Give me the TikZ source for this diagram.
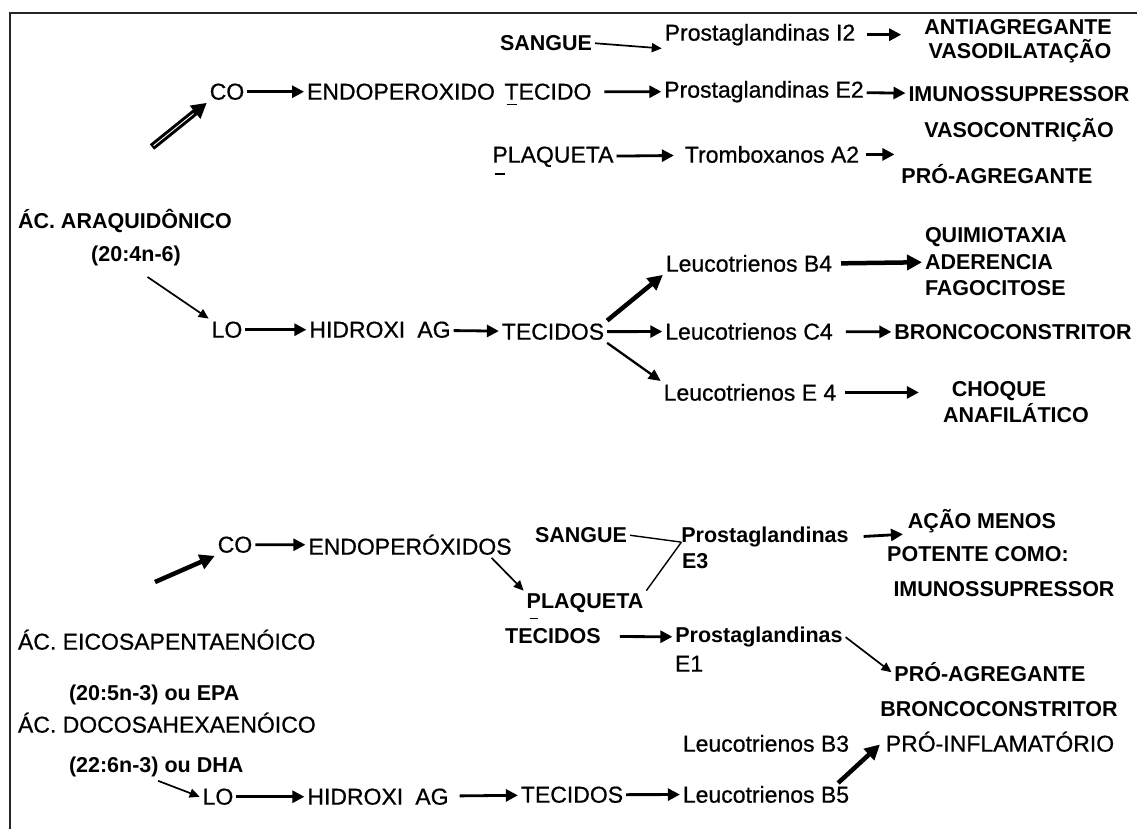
\documentclass[tikz,border=0pt]{standalone}
\usepackage{fontspec}
\setmainfont{Liberation Sans}
\newfontfamily\regf{Liberation Sans}[FakeBold=0.7]
\usetikzlibrary{arrows.meta,calc}
\begin{document}
\begin{tikzpicture}[x=1pt,y=-1pt,
  every node/.style={inner sep=0pt,outer sep=3pt,anchor=mid,font=\regf\fontsize{23}{26}\selectfont},
  bd/.style={font=\fontsize{21.5}{26}\selectfont\bfseries},
  arr/.style={line width=2.8pt,-{Triangle[length=12pt,width=12pt]}},
  tarr/.style={line width=1.7pt,-{Triangle[length=10pt,width=9pt]}},
  barr/.style={line width=4.5pt,-{Triangle[length=15pt,width=15pt]}},
  plainln/.style={line width=1.4pt},
  dmark/.style={line width=1.5pt}]
\useasboundingbox (0,0) rectangle (1137,828);
\fill[white] (0,0) rectangle (1137,828);
\draw[line width=2pt,black!85] (10,840) -- (10,13) -- (1150,13);

% ---------- top section ----------
\node[bd] (sangA) at (546,48) {SANGUE};
\node (pgi2) at (760,38) {Prostaglandinas I2};
\node[bd] (antia) at (1018,32) {ANTIAGREGANTE};
\node[bd] (vasod) at (1020,56) {VASODILATAÇÃO};
\node (co1) at (227,97) {CO};
\node (endo1) at (401,97) {ENDOPEROXIDO};
\node (tec1) at (548,97) {TECIDO};
\node (pge2) at (764,95) {Prostaglandinas E2};
\node[bd] (imun1) at (1019,99) {IMUNOSSUPRESSOR};
\node[bd] (vasoc) at (1019,135) {VASOCONTRIÇÃO};
\node (plaq1) at (553,160) {PLAQUETA};
\node (txa2) at (772,160) {Tromboxanos A2};
\node[bd] (proag1) at (997,181) {PRÓ-AGREGANTE};
\node[bd,anchor=mid west] (aa) at (15,226) {ÁC. ARAQUIDÔNICO};
\node[bd] (aa2) at (136,259) {(20:4n-6)};
\node (lo1) at (227,335) {LO};
\node (hid1) at (380,335) {HIDROXI\hspace{0.25em} AG};
\node (tecs1) at (553,337) {TECIDOS};
\node (lb4) at (749,269) {Leucotrienos B4};
\node (lc4) at (749,337) {Leucotrienos C4};
\node (le4) at (750,398) {Leucotrienos E 4};
\node[bd,anchor=mid west] (quim) at (922,240) {QUIMIOTAXIA};
\node[bd,anchor=mid west] (ader) at (922,267) {ADERENCIA};
\node[bd,anchor=mid west] (fago) at (922,293) {FAGOCITOSE};
\node[bd] (bronc1) at (1013,337) {BRONCOCONSTRITOR};
\node[bd] (choq) at (999,394) {CHOQUE};
\node[bd] (anaf) at (1016,420) {ANAFILÁTICO};

\coordinate (d1) at (152,147);
\draw[line width=7pt,-{Triangle[length=15pt,width=16pt]}] (d1) -- (co1.south west);
\draw[white,line width=0.9pt,shorten >=17pt,shorten <=2pt] (d1) -- (co1.south west);
\draw[arr] (co1) -- (endo1);
\draw[tarr] (sangA.east) -- (pgi2.south west);
\draw[arr,shorten <=9pt,shorten >=20pt] (pgi2.east) -- (pgi2.east -| antia.west);
\draw[arr,shorten <=10pt] (tec1) -- (pge2);
\draw[arr] (pge2) -- (imun1);
\draw[arr,shorten >=8pt] (plaq1) -- (txa2);
\draw[arr,shorten <=4pt,shorten >=4pt] (txa2.east) -- (txa2.east -| proag1.west);
\draw[tarr,shorten <=14pt] (aa2.south) -- (lo1.north west);
\draw[arr] (lo1) -- (hid1);
\draw[arr] (hid1) -- (tecs1);
\draw[barr] (tecs1.north east) -- (lb4.south west);
\draw[arr] (tecs1) -- (lc4);
\draw[line width=2.3pt,-{Triangle[length=12pt,width=11pt]}] (tecs1.south east) -- (le4.north west);
\draw[barr,shorten <=6pt] (lb4.east) -- (ader.west);
\draw[arr,shorten <=10pt] (lc4) -- (bronc1);
\draw[arr,shorten <=6pt,shorten >=30pt] (le4.east) -- (le4.east -| choq.west);

\draw[dmark] ($(tec1.west)+(5,13)$) -- ++(10,0);
\draw[dmark] ($(plaq1.west)+(5,17)$) -- ++(10,0);

% ---------- bottom section ----------
\node (co2) at (235,550) {CO};
\node (endo2) at (410,552) {ENDOPERÓXIDOS};
\node[bd] (sang2) at (581,540) {SANGUE};
\node[bd] (pg3) at (765,540) {Prostaglandinas};
\node[bd,anchor=mid west] (e3) at (679,566) {E3};
\node[bd] (plaq2) at (585,606) {PLAQUETA};
\node[bd] (acao) at (982,526) {AÇÃO MENOS};
\node[bd] (pot) at (978,559) {POTENTE COMO:};
\node[bd] (imun2) at (1004,594) {IMUNOSSUPRESSOR};
\node[anchor=mid west] (eic) at (15,647) {ÁC. EICOSAPENTAENÓICO};
\node[bd] (tec2) at (553,641) {TECIDOS};
\node[bd] (pge1) at (759,640) {Prostaglandinas};
\node[anchor=mid west] (e1) at (672,669) {E1};
\node[bd] (proag2) at (990,679) {PRÓ-AGREGANTE};
\node[bd,anchor=mid west] (epa) at (66,698) {(20:5n-3) ou EPA};
\node[bd] (bronc2) at (999,714) {BRONCOCONSTRITOR};
\node[anchor=mid west] (dha) at (15,730) {ÁC. DOCOSAHEXAENÓICO};
\node (lb3) at (766,749) {Leucotrienos B3};
\node (proinf) at (1000,749) {PRÓ-INFLAMATÓRIO};
\node[bd,anchor=mid west] (dha2) at (66,770) {(22:6n-3) ou DHA};
\node (lo2) at (218,802) {LO};
\node (hid2) at (378,802) {HIDROXI\hspace{0.25em} AG};
\node (tec3) at (572,800) {TECIDOS};
\node (lb5) at (766,800) {Leucotrienos B5};

\coordinate (d2) at (155,582);
\draw[barr] (d2) -- (co2.south west);
\draw[arr] (co2) -- (endo2);
\draw[tarr] ($(endo2.south east)+(-23,0)$) -- (plaq2.north west);
\coordinate (m3) at ($(pg3.west)+(3,5)$);
\draw[plainln] (sang2.east) -- (m3);
\draw[plainln] (plaq2.north east) -- (m3);
\draw[arr,shorten <=12pt,shorten >=2pt] (pg3.east) -- ($(pg3.east -| acao.west)+(0,-3)$);
\draw[arr,shorten <=16pt] (tec2) -- (pge1);
\draw[tarr] (pge1.east) -- (proag2.west);
\draw[tarr,shorten <=2pt] (dha2.south) -- (lo2.west);
\draw[arr] (lo2) -- (hid2);
\draw[arr,shorten <=8pt] (hid2) -- (tec3);
\draw[arr] (tec3) -- (lb5);
\draw[barr,shorten >=4pt] ($(lb5.north east)+(-14,0)$) -- (proinf.west);

\draw[dmark] ($(plaq2.west)+(6,15)$) -- ++(8,0);
\end{tikzpicture}
\end{document}
